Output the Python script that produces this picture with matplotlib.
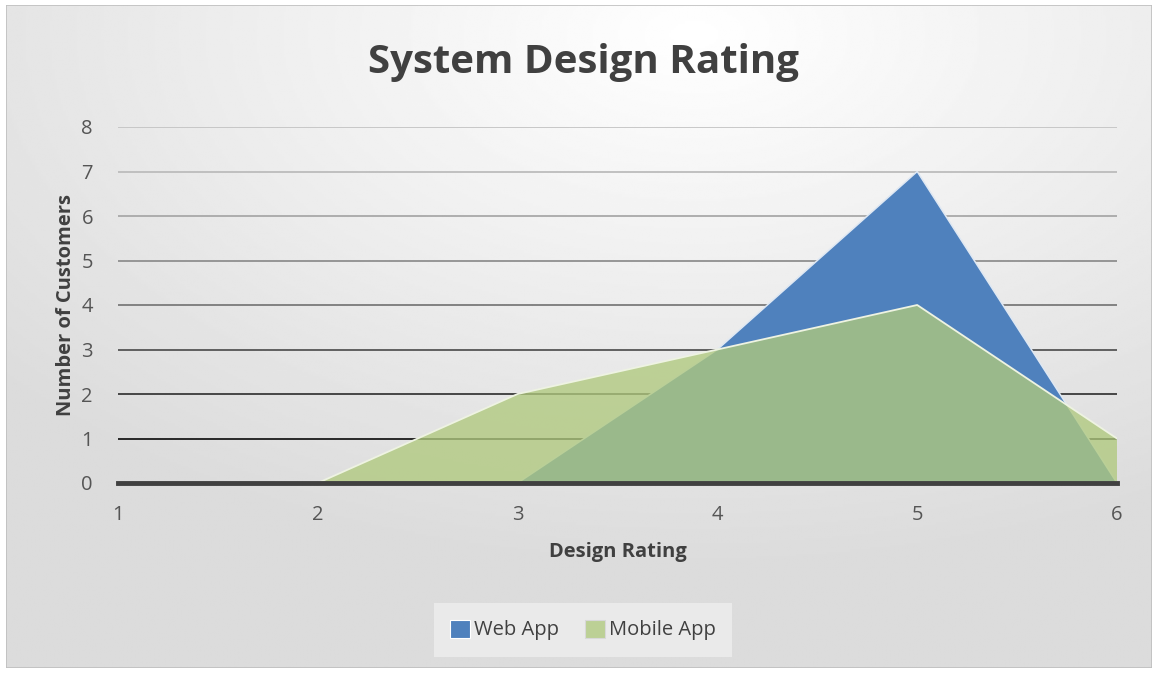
import numpy as np
import matplotlib
matplotlib.use("Agg")
import matplotlib.pyplot as plt
from matplotlib.patches import Rectangle, Patch

# ---- data ----
ratings = [1, 2, 3, 4, 5, 6]
web_app = [0, 0, 0, 3, 7, 0]
mobile_app = [0, 0, 2, 3, 4, 1]
series_names = ["Web App", "Mobile App"]
y_ticks = [0, 1, 2, 3, 4, 5, 6, 7, 8]

plt.rcParams["font.family"] = ["Open Sans", "DejaVu Sans"]

W, H = 1158, 674
fig = plt.figure(figsize=(W / 100, H / 100), dpi=100)
fig.patch.set_facecolor("white")

# background gradient
bg = fig.add_axes([0, 0, 1, 1], zorder=-10)
yy, xx = np.mgrid[0:1:300j, 0:1:520j]
d = np.sqrt(((xx - 0.6) * 1.0) ** 2 + ((yy - 0.05) * 1.0) ** 2)
val = np.clip(1.0 - 0.14 * d / 0.8, 0.86, 1.0)
bg.imshow(val, cmap="gray", vmin=0, vmax=1, extent=[0, 1, 0, 1], origin="upper", aspect="auto",
          interpolation="bilinear")
bg.add_patch(Rectangle((6 / W, 1 - 668 / H), (1152 - 6) / W, (668 - 5) / H, fill=False,
                       edgecolor="#bfbfbf", linewidth=1.2, transform=bg.transAxes))
for r in [(0, 0, 6 / W, 1), (1152 / W, 0, 6 / W, 1), (0, 0, 1, 1 - 668 / H), (0, 1 - 5 / H, 1, 5 / H)]:
    bg.add_patch(Rectangle(r[:2], r[2], r[3], facecolor="white", edgecolor="none", transform=bg.transAxes))
bg.set_xlim(0, 1); bg.set_ylim(0, 1)
bg.axis("off")

ax = fig.add_axes([118 / W, 1 - 483 / H, (1117 - 118) / W, (483 - 127) / H])
ax.set_facecolor("none")

grid_cols = ["#3c3c3c", "#1a1a1a", "#3a3a3a", "#555555", "#7a7a7a", "#8f8f8f", "#a8a8a8", "#bcbcbc", "#c4c4c4"]
for v, c in zip(y_ticks[1:], grid_cols[1:]):
    ax.axhline(v, color=c, linewidth=1.3, zorder=1)

blue = "#4f81bd"
green = "#b0c97e"
ax.fill_between(ratings, web_app, 0, facecolor=blue, edgecolor="none", zorder=2)
ax.plot(ratings, web_app, color="#dfe8f3", linewidth=1.1, zorder=2.5)
ax.fill_between(ratings, mobile_app, 0, facecolor=green, alpha=0.78, edgecolor="none", zorder=3)
ax.plot(ratings, mobile_app, color="#eef3e2", linewidth=1.3, zorder=4)
ax.axhline(0, color="#404040", linewidth=3.5, zorder=5, clip_on=False)

ax.set_xlim(1, 6)
ax.set_ylim(0, 8)
ax.set_xticks(ratings)
ax.set_yticks(y_ticks)
ax.tick_params(length=0, labelsize=14.5, labelcolor="#555555")
ax.tick_params(axis="y", pad=18)
ax.tick_params(axis="x", pad=16)
for s in ax.spines.values():
    s.set_visible(False)

ax.set_xlabel("Design Rating", fontsize=14.5, fontweight="bold", color="#404040", labelpad=12)
ax.set_ylabel("Number of Customers", fontsize=14.5, fontweight="bold", color="#404040", labelpad=4)

fig.text(583 / W, 1 - 62 / H, "System Design Rating", ha="center", va="center",
         fontsize=29, fontweight="bold", color="#404040")

handles = [Patch(facecolor=blue, edgecolor="white", linewidth=0.8),
           Patch(facecolor="#bcd095", edgecolor="#d8d8d8", linewidth=0.8)]
leg = fig.legend(handles, series_names, loc="center", bbox_to_anchor=(583 / W, 1 - 630 / H), ncol=2,
                 frameon=True, fontsize=14.5, handlelength=1.0, handleheight=1.0, handletextpad=0.2,
                 columnspacing=1.3, borderpad=0.8)
leg.get_frame().set_facecolor("#ececec")
leg.get_frame().set_edgecolor("none")
leg.get_frame().set_alpha(0.9)
leg.get_frame().set_boxstyle("square", pad=0.0)
for t in leg.get_texts():
    t.set_color("#404040")

fig.savefig("out.png", dpi=100)
